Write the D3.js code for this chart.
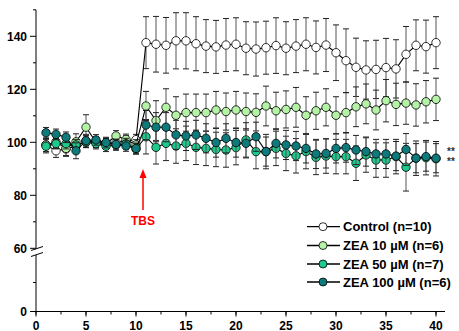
<!DOCTYPE html>
<html>
<head>
<meta charset="utf-8">
<script src="https://cdn.jsdelivr.net/npm/d3@7"></script>
<style>
  body { margin: 0; background: #fff; }
  svg { display: block; font-family: "Liberation Sans", Arial, sans-serif; }
</style>
</head>
<body>
<svg id="chart" width="459" height="331"></svg>
<script>
// time points (min)
var times = d3.range(1, 41);

var control = [99, 96.8, 97.5, 98.5, 100.5, 100, 99.5, 100, 100.5, 101,
  137.6, 137.0, 136.6, 138.3, 138.3, 137.2, 136.3, 136.0, 136.7, 137.0,
  135.5, 135.2, 135.7, 136.5, 135.5, 136.3, 137.0, 135.8, 136.7, 133.8,
  130.8, 128.3, 127.3, 127.5, 128.2, 127.7, 133.2, 136.6, 136.1, 137.6];
var controlErr = [2.5, 2.5, 2.5, 2.5, 2.5, 2, 2, 2, 2, 2,
  9.8, 10.5, 10.5, 10.6, 10.6, 10.2, 10, 10, 10, 10,
  10, 10.2, 10, 10.5, 10, 10, 10, 10, 10, 10.5,
  12, 11, 11, 11, 11, 11, 10.5, 9.6, 10, 9.8];

var zea10 = [99, 100.2, 97.7, 100.2, 105.7, 100, 99.6, 102.4, 101.1, 99,
  113.7, 108.2, 113.2, 110.2, 111.2, 111.2, 111.2, 112.2, 111.6, 112.2,
  111.6, 111.3, 113.7, 111.9, 112.4, 113.2, 110.2, 111.9, 113.2, 110.2,
  111.2, 113.4, 114.5, 112.2, 115.7, 114.3, 114.8, 114.1, 115.3, 116.2];
var zea10Err = [2.5, 2.5, 3, 3, 4.7, 2, 2, 2, 2, 2,
  5.5, 7.5, 7, 7, 7, 7, 7, 7, 7, 7,
  7, 7, 7.5, 7, 7, 7.5, 7, 7, 7, 7,
  7.5, 7.5, 7.5, 7.5, 8, 8, 8, 8, 8, 8];

var zea50 = [98.5, 99.5, 99.5, 99, 100, 99.5, 98.5, 99, 99.5, 97.5,
  102.1, 98.1, 99.6, 98.6, 99.6, 98.1, 97.7, 97.3, 97.1, 98.0,
  100.9, 96.5, 96.5, 97.7, 95.8, 94.9, 96.5, 94.3, 94.8, 94.6,
  94.6, 92.1, 95.2, 93.3, 93.3, 94.6, 90.6, 94, 94.2, 93.8];
var zea50Err = [2.5, 2, 2, 2, 2, 2, 2, 2, 2, 2,
  6.5, 6.3, 6.5, 6.5, 6.5, 6.5, 6.5, 6.5, 6.5, 6.5,
  6.5, 6.5, 6.5, 6.5, 6.5, 6.5, 6.5, 6.5, 6.5, 6.5,
  6.5, 6.5, 6.5, 6.5, 6.5, 6.5, 9, 6.5, 6.5, 6.5];

var zea100 = [103.6, 103, 101.9, 96.8, 100.6, 100.9, 99.9, 99.2, 98.6, 97.7,
  106.5, 105.7, 105.7, 102.8, 102.4, 102.8, 101.5, 99.9, 101.5, 99.9,
  99.6, 102.1, 96.5, 99.6, 99, 98.6, 97.7, 95.6, 95.8, 97.7,
  98, 97.1, 96.5, 95.6, 95.6, 94.8, 97.3, 94, 94.6, 94];
var zea100Err = [2, 2, 2, 3, 2, 2, 2, 2, 2, 2,
  5.5, 5.5, 5.5, 5.5, 5.5, 5.5, 5.5, 5.5, 5.5, 5.5,
  5.5, 5.5, 5.5, 5.5, 5.5, 5.5, 5.5, 5.5, 5.5, 5.5,
  5.5, 5.5, 5.5, 5.5, 5.5, 5.5, 6, 5.5, 5.5, 5.5];

var seriesNames = ["Control (n=10)", "ZEA 10 \u00b5M (n=6)", "ZEA 50 \u00b5M (n=7)", "ZEA 100 \u00b5M (n=6)"];
var seriesColors = ["#ffffff", "#b4f2a6", "#1ec98c", "#0f7a7c"];
var seriesValues = [control, zea10, zea50, zea100];
var seriesErrors = [controlErr, zea10Err, zea50Err, zea100Err];

var xTicks = [0, 5, 10, 15, 20, 25, 30, 35, 40];
var yTicksUpper = [60, 80, 100, 120, 140];
var yTicksLower = [0];

var svg = d3.select("#chart");

var x = d3.scaleLinear().domain([0, 40]).range([36, 436]);
var y = d3.scaleLinear().domain([60, 150]).range([248.3, 9.8]);
var yLow = d3.scaleLinear().domain([0, 20]).range([311.5, 253.5]);

// x axis
var xAxisG = svg.append("g").attr("transform", "translate(0,311.5)");
xAxisG.append("line").attr("x1", 36).attr("x2", 445).attr("stroke", "#000");
xAxisG.selectAll(".minor").data(d3.range(0, 42.6, 2.5)).enter().append("line")
  .attr("x1", d => x(d)).attr("x2", d => x(d)).attr("y1", 0).attr("y2", 3)
  .attr("stroke", "#000");
xAxisG.selectAll(".major").data(xTicks).enter().append("line")
  .attr("x1", d => x(d)).attr("x2", d => x(d)).attr("y1", 0).attr("y2", 5)
  .attr("stroke", "#000");
xAxisG.selectAll("text").data(xTicks).enter().append("text")
  .attr("x", d => x(d)).attr("y", 18).attr("text-anchor", "middle")
  .attr("font-size", 12).attr("font-weight", "bold").text(d => d);

// y axis
var yAxisG = svg.append("g");
yAxisG.append("line").attr("x1", 36).attr("x2", 36).attr("y1", 9.8).attr("y2", 311.5).attr("stroke", "#000");
yAxisG.selectAll(".minor").data(d3.range(70, 151, 20)).enter().append("line")
  .attr("x1", 33).attr("x2", 36).attr("y1", d => y(d)).attr("y2", d => y(d)).attr("stroke", "#000");
yAxisG.selectAll(".major").data(yTicksUpper).enter().append("line")
  .attr("x1", 30).attr("x2", 36).attr("y1", d => y(d)).attr("y2", d => y(d)).attr("stroke", "#000");
yAxisG.selectAll(".lbl").data(yTicksUpper).enter().append("text")
  .attr("x", 27).attr("y", d => y(d)).attr("dy", "0.35em").attr("text-anchor", "end")
  .attr("font-size", 12).attr("font-weight", "bold").text(d => d);
yAxisG.append("line").attr("x1", 33).attr("x2", 36).attr("y1", yLow(10)).attr("y2", yLow(10)).attr("stroke", "#000");
yAxisG.selectAll(".low").data(yTicksLower).enter().append("line")
  .attr("x1", 30).attr("x2", 36).attr("y1", d => yLow(d)).attr("y2", d => yLow(d)).attr("stroke", "#000");
yAxisG.selectAll(".lowlbl").data(yTicksLower).enter().append("text")
  .attr("x", 27).attr("y", d => yLow(d)).attr("dy", "0.35em").attr("text-anchor", "end")
  .attr("font-size", 12).attr("font-weight", "bold").text(d => d);

// axis break
yAxisG.append("path").attr("d", "M31,250.5 L43,246.5 L43,252.5 L31,256.5 Z").attr("fill", "#fff");
yAxisG.append("line").attr("x1", 31).attr("y1", 250.5).attr("x2", 43).attr("y2", 246.5).attr("stroke", "#000");
yAxisG.append("line").attr("x1", 31).attr("y1", 256.5).attr("x2", 43).attr("y2", 252.5).attr("stroke", "#000");

// series
seriesValues.forEach(function(vals, si) {
  var errs = seriesErrors[si];
  var g = svg.append("g");
  var eb = g.selectAll(".eb").data(times).enter().append("g");
  eb.append("line")
    .attr("x1", (d) => x(d)).attr("x2", (d) => x(d))
    .attr("y1", (d, i) => y(vals[i] + errs[i])).attr("y2", (d, i) => y(vals[i] - errs[i]))
    .attr("stroke", "#555").attr("stroke-width", 1);
  eb.append("line")
    .attr("x1", (d) => x(d) - 3).attr("x2", (d) => x(d) + 3)
    .attr("y1", (d, i) => y(vals[i] + errs[i])).attr("y2", (d, i) => y(vals[i] + errs[i]))
    .attr("stroke", "#222");
  eb.append("line")
    .attr("x1", (d) => x(d) - 3).attr("x2", (d) => x(d) + 3)
    .attr("y1", (d, i) => y(vals[i] - errs[i])).attr("y2", (d, i) => y(vals[i] - errs[i]))
    .attr("stroke", "#222");
  var line = d3.line().x((d) => x(d)).y((d, i) => y(vals[i]));
  g.append("path").datum(times).attr("d", line)
    .attr("fill", "none").attr("stroke", "#000").attr("stroke-width", 1.1);
  g.selectAll("circle").data(times).enter().append("circle")
    .attr("cx", (d) => x(d)).attr("cy", (d, i) => y(vals[i])).attr("r", 4.2)
    .attr("fill", seriesColors[si]).attr("stroke", "#000").attr("stroke-width", 0.8);
});

// TBS arrow
var tbsX = x(10.7);
svg.append("line").attr("x1", tbsX).attr("x2", tbsX).attr("y1", 210).attr("y2", 176)
  .attr("stroke", "#ff0000").attr("stroke-width", 1.5);
svg.append("path").attr("d", "M" + (tbsX - 3.5) + ",178 L" + tbsX + ",169 L" + (tbsX + 3.5) + ",178 Z")
  .attr("fill", "#ff0000");
svg.append("text").attr("x", tbsX).attr("y", 225).attr("text-anchor", "middle")
  .attr("font-size", 12).attr("font-weight", "bold").attr("fill", "#ff0000").text("TBS");

// significance
svg.append("text").attr("x", 447).attr("y", 155).attr("font-size", 10).attr("font-weight", "bold").attr("fill", "#333").text("**");
svg.append("text").attr("x", 447).attr("y", 165).attr("font-size", 10).attr("font-weight", "bold").attr("fill", "#333").text("**");

// legend
var legendY = [226.7, 245.5, 264, 282];
var lg = svg.selectAll(".legend").data(seriesNames).enter().append("g")
  .attr("transform", (d, i) => "translate(0," + legendY[i] + ")");
lg.append("line").attr("x1", 307).attr("x2", 340).attr("stroke", "#000").attr("stroke-width", 1.3);
lg.append("circle").attr("cx", 323).attr("r", 4).attr("fill", (d, i) => seriesColors[i])
  .attr("stroke", "#000").attr("stroke-width", 0.8);
lg.append("text").attr("x", 343).attr("dy", "0.36em").attr("font-size", 13).attr("font-weight", "bold").text(d => d);
</script>
</body>
</html>
